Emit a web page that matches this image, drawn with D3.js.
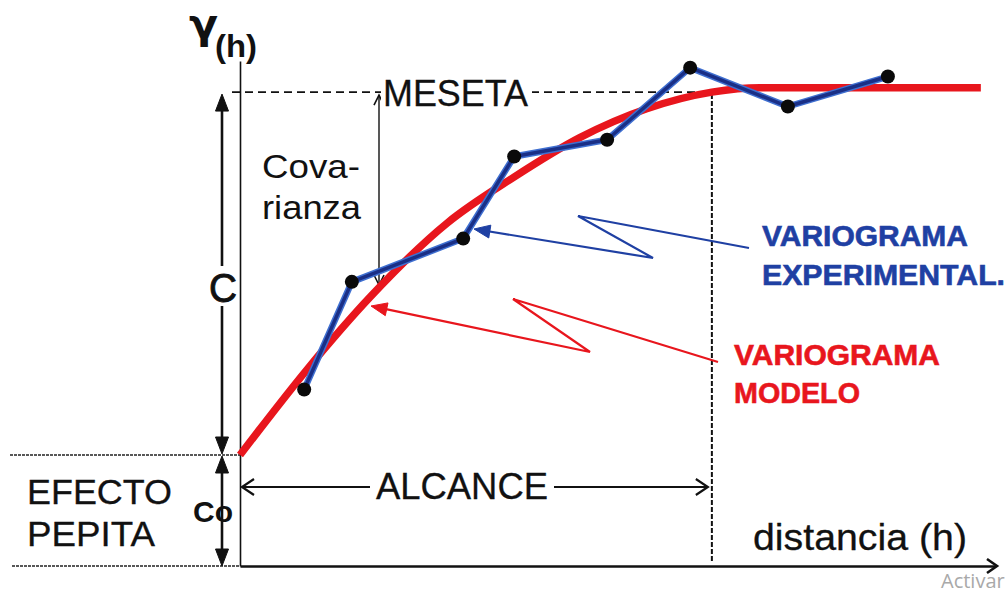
<!DOCTYPE html>
<html>
<head>
<meta charset="utf-8">
<script src="https://cdn.jsdelivr.net/npm/d3@7"></script>
<style>
  html, body { margin: 0; padding: 0; background: #fff; overflow: hidden; }
  text { font-family: "Liberation Sans", Arial, sans-serif; }
</style>
</head>
<body>
<svg id="chart" width="1008" height="596"></svg>
<script>
// Experimental variogram: lag distance h and semivariance γ(h)
const expLag   = [1.36, 2.37, 4.73, 5.81, 7.78, 9.54, 11.61, 13.73];
const expGamma = [1.59, 2.56, 2.95, 3.69, 3.84, 4.49, 4.14, 4.41];

// Fitted (spherical) model curve
const modelLag   = [0, 1.42, 2.75, 4.39, 5.79, 7.20, 8.62, 10.0, 11.02, 15.70];
const modelGamma = [1.00, 1.77, 2.42, 3.09, 3.50, 3.86, 4.12, 4.27, 4.31, 4.31];

// Model parameters
const nugget = 1.0;     // Co
const sill = 4.27;      // meseta
const rangeLag = 10;    // alcance

// Axis extents
const lagDomain = [0, 16];
const gammaDomain = [0, 4.55];

const svg = d3.select("#chart");
const x = d3.scaleLinear().domain(lagDomain).range([240, 995]);
const y = d3.scaleLinear().domain(gammaDomain).range([566, 61]);

const RED = "#e8161d";
const BLUE = "#1f40a3";

// arrowhead helper: tip at (tx,ty), pointing along angle a
function head(g, tx, ty, a, len, hw, color, filled, sw) {
  const dx = Math.cos(a), dy = Math.sin(a);
  const bx = tx - len * dx, by = ty - len * dy;
  const p1 = [bx - hw * dy, by + hw * dx], p2 = [bx + hw * dy, by - hw * dx];
  const p = d3.path();
  p.moveTo(p1[0], p1[1]); p.lineTo(tx, ty); p.lineTo(p2[0], p2[1]);
  if (filled) p.closePath();
  g.append("path").attr("d", p.toString())
    .attr("fill", filled ? color : "none")
    .attr("stroke", color).attr("stroke-width", sw || 1)
    .attr("stroke-linejoin", "miter");
}
function line(g, x1, y1, x2, y2, color, w, dash) {
  const l = g.append("line").attr("x1", x1).attr("y1", y1).attr("x2", x2).attr("y2", y2)
    .attr("stroke", color).attr("stroke-width", w);
  if (dash) l.attr("stroke-dasharray", dash);
  return l;
}

const guides = svg.append("g");
// left guide lines for the nugget band
line(guides, 10, y(nugget), x(0), y(nugget), "#222", 1.3, "3,1");
line(guides, 12, y(0), x(0), y(0), "#222", 1.3, "3,1");
// sill (meseta) dashed line and range (alcance) dashed line
line(guides, 232, y(sill), x(rangeLag), y(sill), "#111", 1.6, "8,5");
line(guides, x(rangeLag), y(sill) + 2, x(rangeLag), y(0) - 3, "#111", 2, "5,2");

// axes
const yAxis = svg.append("g").attr("transform", `translate(${x(0)},0)`)
  .call(d3.axisLeft(y).tickValues([]).tickSizeOuter(0));
yAxis.select(".domain").attr("stroke", "#111").attr("stroke-width", 1.6);
const xAxis = svg.append("g").attr("transform", `translate(0,${y(0)})`)
  .call(d3.axisBottom(x).tickValues([]).tickSizeOuter(0));
xAxis.select(".domain").attr("stroke", "#111").attr("stroke-width", 2.4);
head(svg, x(lagDomain[1]) + 2, y(0), 0, 10, 7, "#111", false, 2.6);

// C and Co double arrows
const ann = svg.append("g");
const cx = 222;
line(ann, cx, y(sill) + 14, cx, y(nugget) - 14, "#111", 2.6);
head(ann, cx, y(sill) + 2, -Math.PI / 2, 17, 6.5, "#111", true);
head(ann, cx, y(nugget) - 1, Math.PI / 2, 17, 6.5, "#111", true);
line(ann, cx, y(nugget) + 14, cx, y(0) - 14, "#111", 2.6);
head(ann, cx, y(nugget) + 1, -Math.PI / 2, 17, 6.5, "#111", true);
head(ann, cx, y(0), Math.PI / 2, 17, 6.5, "#111", true);

// covarianza arrow
line(ann, 379, y(sill) + 3, 379, 284, "#111", 1.4);
head(ann, 379, y(sill) + 3, -Math.PI / 2, 10, 5, "#111", false, 1.6);
head(ann, 379, 285, Math.PI / 2, 10, 5, "#111", false, 1.6);

// alcance arrow
const ay = 487;
line(ann, x(0) + 2, ay, x(rangeLag) - 4, ay, "#111", 1.8);
head(ann, x(0) + 2, ay, Math.PI, 12, 8, "#111", false, 2.2);
head(ann, x(rangeLag) - 4, ay, 0, 12, 8, "#111", false, 2.2);

// model curve
const modelPts = modelLag.map((h, i) => [h, modelGamma[i]]);
svg.append("path")
  .attr("d", d3.line().x(d => x(d[0])).y(d => y(d[1])).curve(d3.curveMonotoneX)(modelPts))
  .attr("fill", "none").attr("stroke", RED).attr("stroke-width", 7.5)
  .attr("stroke-linecap", "butt");

// experimental variogram
const expPts = expLag.map((h, i) => [h, expGamma[i]]);
const expLine = d3.line().x(d => x(d[0])).y(d => y(d[1]));
svg.append("path").attr("d", expLine(expPts))
  .attr("fill", "none").attr("stroke", "#3f6fd0").attr("stroke-width", 6.5)
  .attr("stroke-linejoin", "round");
svg.append("path").attr("d", expLine(expPts))
  .attr("fill", "none").attr("stroke", "#1a2f86").attr("stroke-width", 3.5)
  .attr("stroke-linejoin", "round");
svg.append("g").selectAll("circle").data(expPts).join("circle")
  .attr("cx", d => x(d[0])).attr("cy", d => y(d[1])).attr("r", 7)
  .attr("fill", "#0a0a0a");

// zigzag pointers to the curves
function zigzag(pts, color) {
  const a = pts[pts.length - 2], b = pts[pts.length - 1];
  const ang = Math.atan2(b[1] - a[1], b[0] - a[0]);
  const end = [b[0] - 8 * Math.cos(ang), b[1] - 8 * Math.sin(ang)];
  svg.append("path").attr("d", d3.line()(pts.slice(0, -1).concat([end])))
    .attr("fill", "none").attr("stroke", color).attr("stroke-width", 2.2)
    .attr("stroke-linejoin", "miter");
  head(svg, b[0], b[1], ang, 16, 6.5, color, true, 1);
}
zigzag([[749, 248], [578, 216], [653, 258], [474, 229]], BLUE);
zigzag([[718, 362], [513, 299], [590, 352], [371, 306]], RED);

// texts
const T = svg.append("g");
function txt(s, tx, ty, size, opts = {}) {
  const t = T.append("text").attr("x", tx).attr("y", ty).attr("font-size", size)
    .attr("fill", opts.fill || "#111").text(s);
  if (opts.weight) t.attr("font-weight", opts.weight);
  if (opts.len) t.attr("textLength", opts.len).attr("lengthAdjust", "spacingAndGlyphs");
  if (opts.anchor) t.attr("text-anchor", opts.anchor);
  if (opts.stroke) t.attr("stroke", opts.fill || "#111").attr("stroke-width", opts.stroke);
  if (opts.family) t.style("font-family", opts.family);
  return t;
}
function bg(x0, y0, w, h) {
  T.append("rect").attr("x", x0).attr("y", y0).attr("width", w).attr("height", h).attr("fill", "#fff");
}

// γ(h) axis title
txt("γ", 189, 38, 41, { weight: "bold", family: "'DejaVu Sans', sans-serif", len: 29 });
txt("(h)", 215, 57, 31, { weight: "bold", len: 42 });

bg(381, 78, 151, 30);
txt("MESETA", 383, 106, 36, { len: 145, stroke: 0.3 });

txt("Cova-", 262, 178, 34, { len: 98 });
txt("rianza", 262, 219, 34, { len: 99 });

bg(207, 266, 31, 40);
txt("C", 209, 302, 41, { len: 28, stroke: 0.9 });

txt("EFECTO", 27, 504, 35, { len: 145, stroke: 0.3 });
txt("PEPITA", 27, 546, 35, { len: 128, stroke: 0.3 });
txt("Co", 193, 522, 30, { weight: "bold", len: 40 });

bg(370, 470, 184, 34);
txt("ALCANCE", 376, 499, 36, { len: 172, stroke: 0.3 });

txt("distancia (h)", 753, 550, 37, { len: 214, stroke: 0.3 });

txt("VARIOGRAMA", 762, 246, 29, { weight: "bold", fill: BLUE, len: 206, stroke: 0.6 });
txt("EXPERIMENTAL.", 762, 285, 29, { weight: "bold", fill: BLUE, len: 243, stroke: 0.6 });
txt("VARIOGRAMA", 734, 365, 29, { weight: "bold", fill: RED, len: 206, stroke: 0.6 });
txt("MODELO", 734, 403, 29, { weight: "bold", fill: RED, len: 126, stroke: 0.6 });

T.append("text").attr("x", 941).attr("y", 588).attr("font-size", 20)
  .attr("fill", "#a9a9a9").style("font-family", "'Open Sans', 'Noto Sans', sans-serif")
  .text("Activar");
</script>
</body>
</html>
